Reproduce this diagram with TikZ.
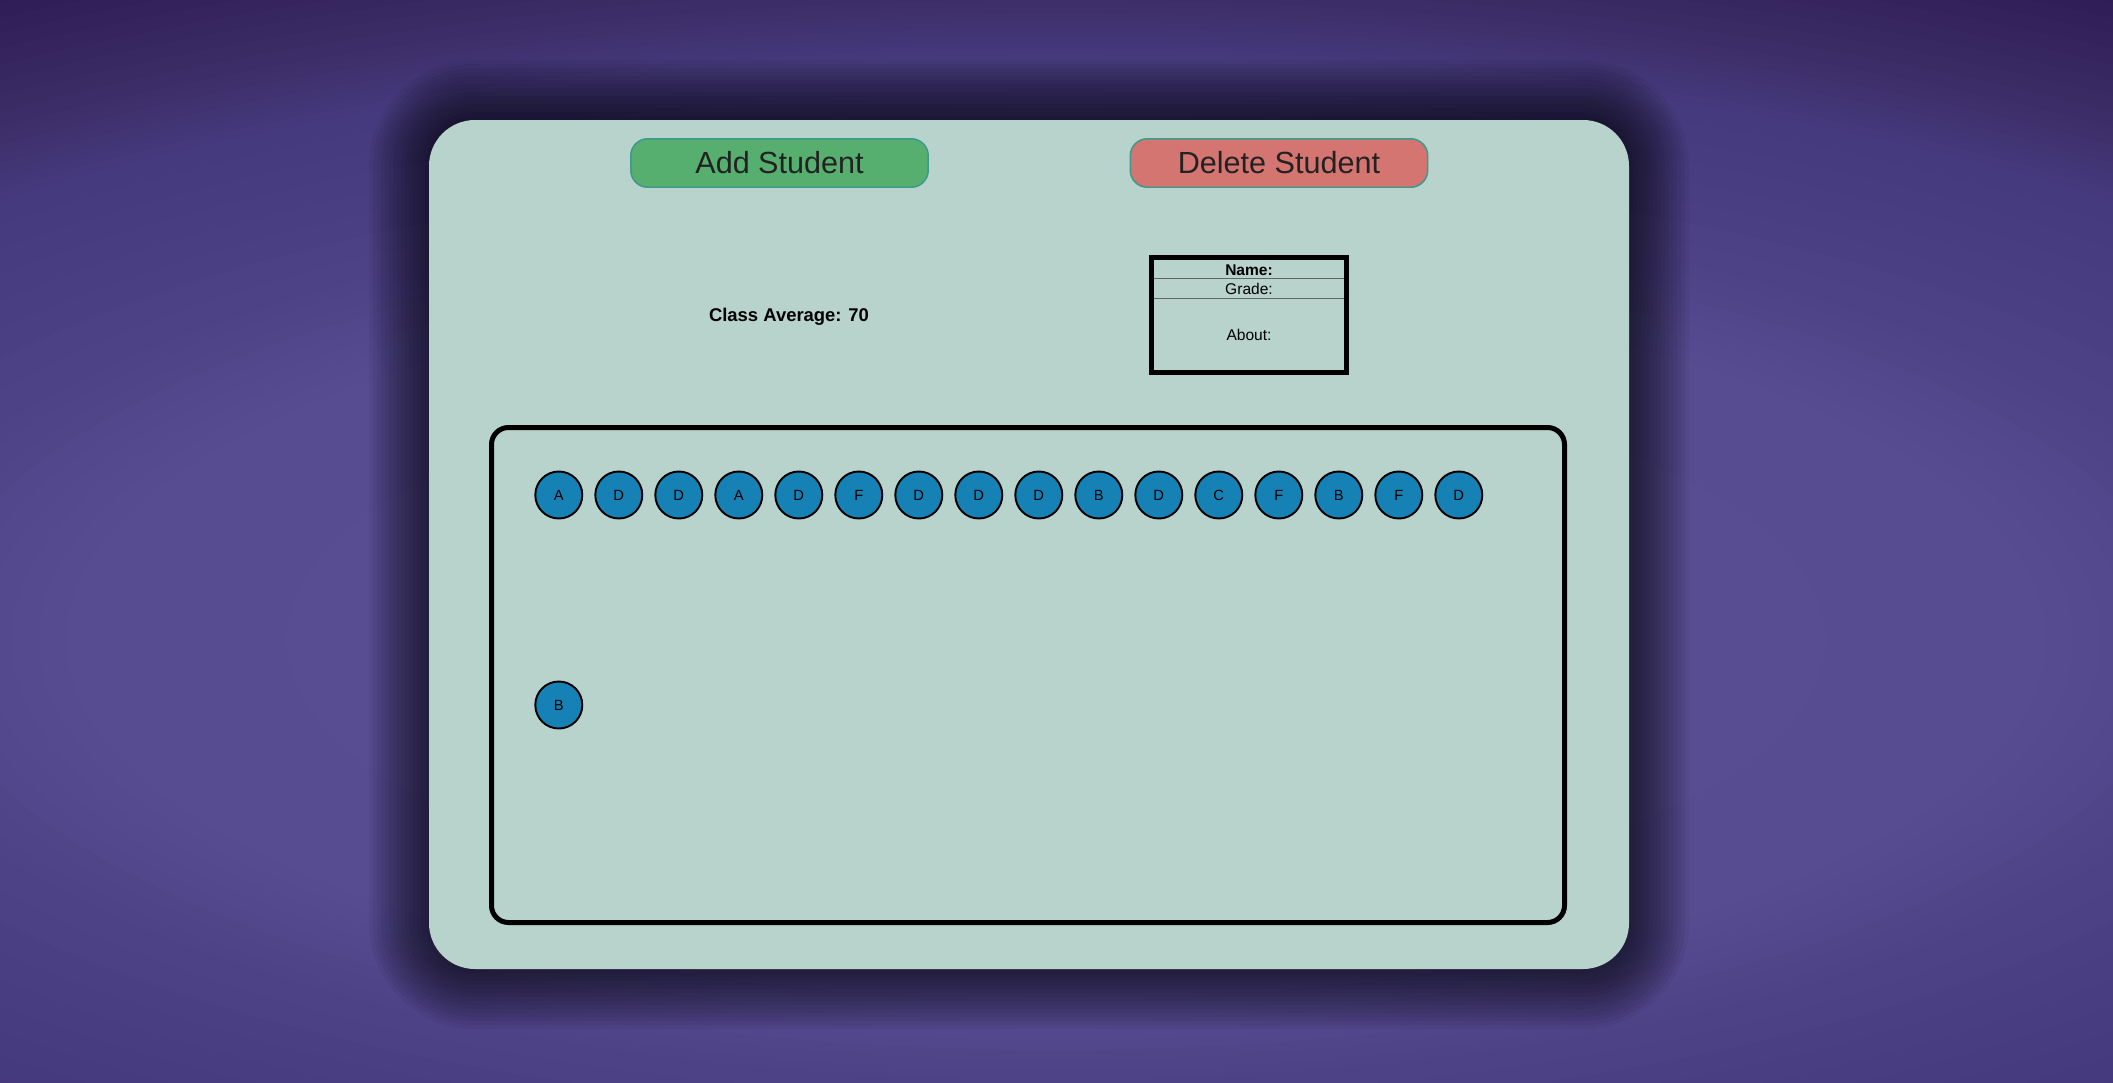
\documentclass[tikz,border=0pt]{standalone}
\usepackage{fontspec}
\setmainfont{Liberation Sans}
\usepackage{tikz}

\definecolor{bgA}{HTML}{5A4F96}
\definecolor{bgB}{HTML}{574C92}
\definecolor{bgC}{HTML}{4F4388}
\definecolor{bgD}{HTML}{463A7E}
\definecolor{bgE}{HTML}{3E2F6A}
\definecolor{bgF}{HTML}{2F1E57}
\definecolor{bgG}{HTML}{2B1A50}
\definecolor{cardbg}{HTML}{B7D3CB}
\definecolor{addgreen}{HTML}{57AF6F}
\definecolor{delred}{HTML}{D47571}
\definecolor{btnedge}{HTML}{3A9A8C}
\definecolor{btntext}{HTML}{222222}
\definecolor{gradeblue}{HTML}{1681B5}
\definecolor{sepgray}{HTML}{666666}

\begin{document}
\begin{tikzpicture}[x=0.02cm, y=-0.02cm,
    btn/.style={draw=btnedge, line width=0.85pt, rounded corners=0.34cm,
                minimum width=5.95cm, minimum height=0.97cm, text=btntext,
                font=\fontsize{17.4}{20}\selectfont},
    grade/.style={circle, draw=black, line width=1.1pt, fill=gradeblue,
                  minimum size=0.94cm, inner sep=0pt, font=\fontsize{8.4}{10}\selectfont},
    infotext/.style={anchor=base, inner sep=0pt, font=\fontsize{8.85}{10}\selectfont}]
    \useasboundingbox (0,0) rectangle (2113,1082);

    % page background, darker towards the corners
    \begin{scope}
        \clip (0,0) rectangle (2113,1082);
        \fill[bgG] (0,0) rectangle (2113,1082);
        \foreach \ra/\rb/\ca/\cb in {1.2/0.93/bgG/bgF, 0.93/0.80/bgF/bgE, 0.80/0.73/bgE/bgD,
                                     0.73/0.55/bgD/bgC, 0.55/0.45/bgC/bgB, 0.45/0.05/bgB/bgA}
        {
            \foreach \t in {0,...,7}
            {
                \pgfmathsetmacro\rr{\ra+(\rb-\ra)*\t/8}
                \pgfmathtruncatemacro\pp{100*\t/8}
                \fill[\cb!\pp!\ca] (1056,640) ellipse [x radius=2200*\rr, y radius=800*\rr];
            }
        }
    \end{scope}

    % card with its shadow
    \foreach \r in {4,8,...,60}
    {
        \fill[black, opacity=0.05, rounded corners=0.92cm+0.02cm*\r] (429-\r,120-\r) rectangle (1629+\r,969+\r);
    }
    \fill[cardbg, rounded corners=0.92cm] (429,120) rectangle (1629,969);

    % buttons
    \node[btn, fill=addgreen] (add) at (779.5,163) {Add Student};
    \node[btn, fill=delred]   (del) at (1279,163)  {Delete Student};

    \node[anchor=base, inner sep=0pt, font=\bfseries\fontsize{10.5}{12}\selectfont] (avg) at (789,321.7) {Class Average: 70};

    % student info
    \draw[line width=0.1cm] (1151.5,257.5) rectangle (1346.5,372.5);
    \draw[sepgray, line width=0.85pt] (1154,278.7) -- (1344,278.7);
    \draw[sepgray, line width=0.85pt] (1154,298.7) -- (1344,298.7);
    \node[infotext, font=\bfseries\fontsize{8.85}{10}\selectfont] (name) at (1249,275) {Name:};
    \node[infotext] (grd)   at (1249,294.3) {Grade:};
    \node[infotext] (about) at (1249,340)   {About:};

    % grade panel
    \draw[line width=0.1cm, rounded corners=0.34cm] (491.5,427.5) rectangle (1564.5,922.5);
    \foreach \g [count=\i from 0] in {A,D,D,A,D,F,D,D,D,B,D,C,F,B,F,D}
    {
        \node[grade] (g\i) at (558.8+60*\i,495) {\g};
    }
    \node[grade] (g16) at (558.8,705) {B};
\end{tikzpicture}
\end{document}
